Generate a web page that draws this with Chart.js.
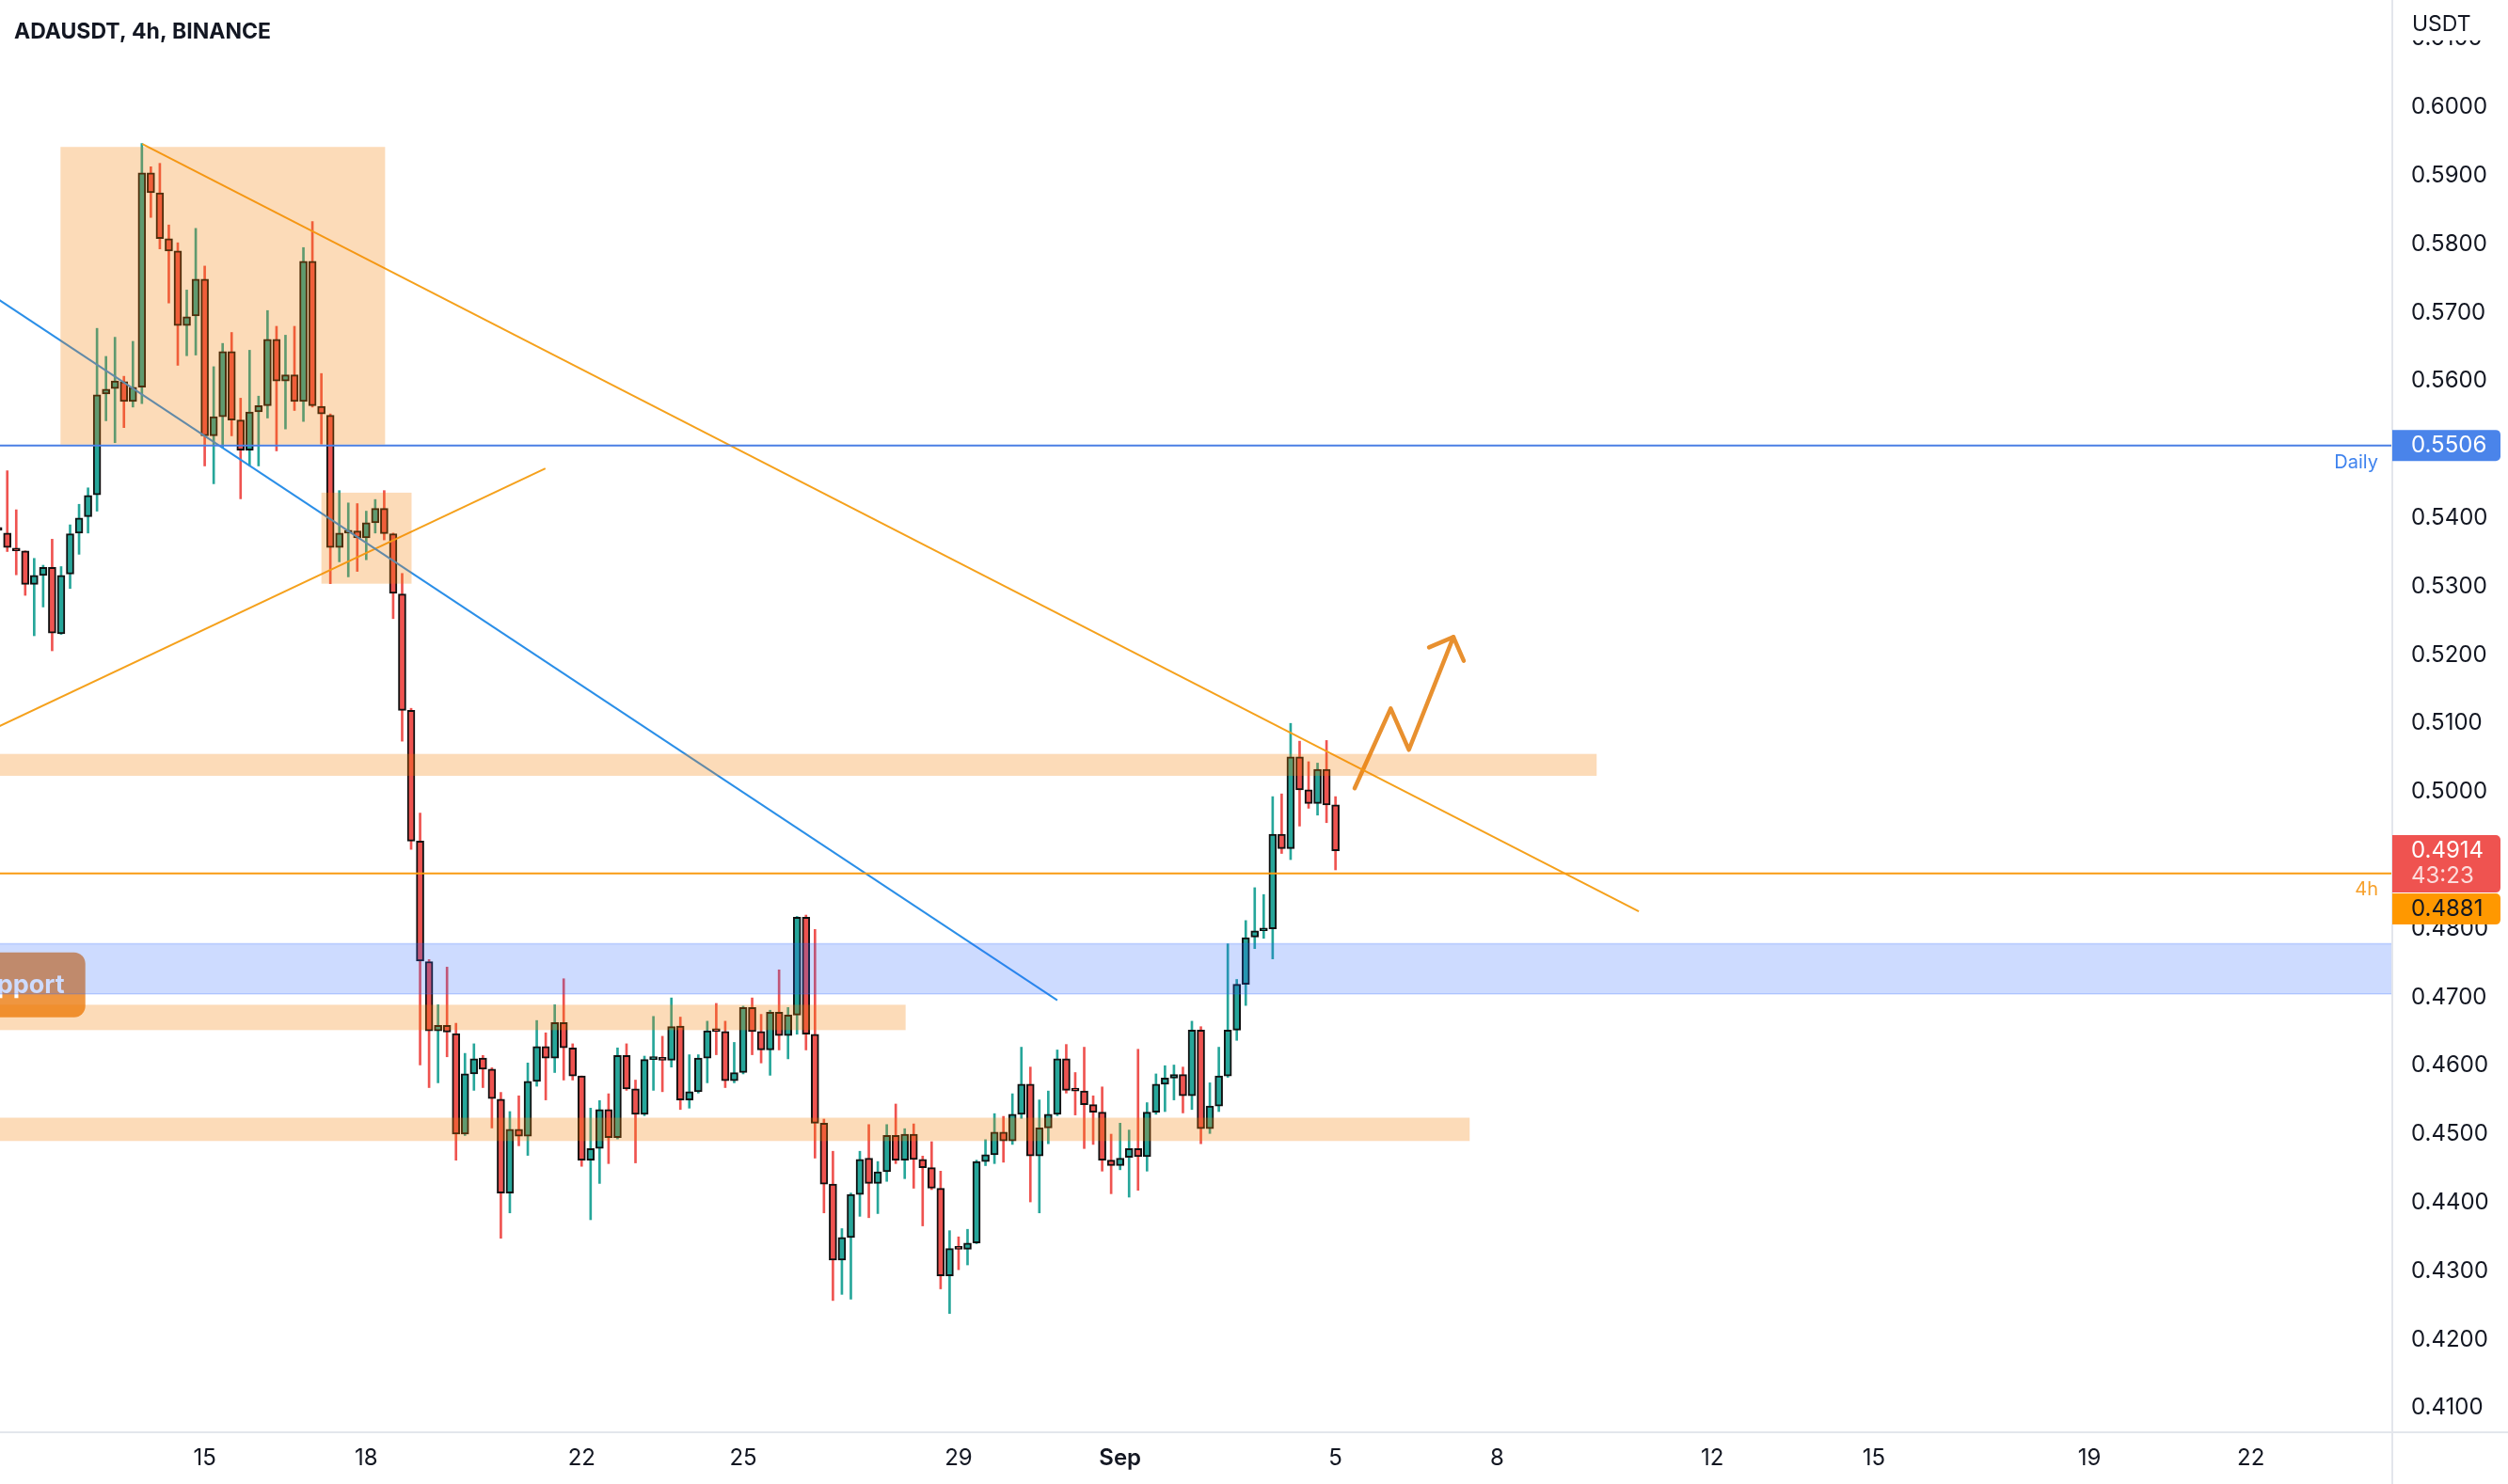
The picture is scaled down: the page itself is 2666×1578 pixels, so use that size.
<!DOCTYPE html>
<html>
<head>
<meta charset="utf-8">
<script src="https://cdn.jsdelivr.net/npm/chart.js@4.4.1/dist/chart.umd.min.js"></script>
<style>
html,body{margin:0;padding:0;background:#fff;overflow:hidden}
canvas{display:block}
</style>
</head>
<body>
<canvas id="c" width="2666" height="1578"></canvas>
<script>
// ADAUSDT 4h candles; bar index counted from Aug 15 00:00 (6 bars per day)
const firstBar = -23;
const openPrices = [
0.5386,0.5378,0.5356,0.5352,0.5303,0.5316,0.5328,0.5231,0.5318,0.5378,
0.5402,0.5434,0.5581,0.5589,0.5599,0.5570,0.5591,0.5904,0.5875,0.5808,
0.5790,0.5681,0.5695,0.5749,0.5520,0.5548,0.5643,0.5543,0.5499,0.5555,
0.5564,0.5661,0.5600,0.5609,0.5570,0.5775,0.5563,0.5550,0.5357,0.5378,
0.5381,0.5371,0.5393,0.5414,0.5377,0.5289,0.5119,0.4928,0.4752,0.4651,
0.4659,0.4647,0.4500,0.4588,0.4611,0.4595,0.4551,0.4414,0.4507,0.4497,
0.4577,0.4628,0.4611,0.4663,0.4626,0.4585,0.4462,0.4479,0.4536,0.4495,
0.4615,0.4566,0.4529,0.4609,0.4610,0.4608,0.4658,0.4550,0.4562,0.4611,
0.4651,0.4650,0.4578,0.4590,0.4685,0.4650,0.4623,0.4678,0.4644,0.4674,
0.4817,0.4646,0.4516,0.4427,0.4316,0.4349,0.4412,0.4465,0.4428,0.4445,
0.4498,0.4462,0.4500,0.4463,0.4451,0.4421,0.4293,0.4333,0.4332,0.4341,
0.4460,0.4470,0.4503,0.4490,0.4529,0.4573,0.4468,0.4509,0.4529,0.4610,
0.4564,0.4563,0.4543,0.4532,0.4462,0.4454,0.4466,0.4479,0.4467,0.4532,
0.4573,0.4582,0.4587,0.4556,0.4652,0.4508,0.4541,0.4585,0.4652,0.4719,
0.4788,0.4797,0.4800,0.4938,0.4917,0.5051,0.5003,0.4983,0.5033,0.4981];
const highPrices = [
0.5395,0.5469,0.5412,0.5352,0.5341,0.5331,0.5369,0.5329,0.5390,0.5420,
0.5444,0.5677,0.5636,0.5664,0.5607,0.5658,0.5947,0.5913,0.5918,0.5828,
0.5802,0.5733,0.5823,0.5768,0.5621,0.5655,0.5671,0.5575,0.5645,0.5578,
0.5703,0.5680,0.5667,0.5680,0.5795,0.5833,0.5611,0.5552,0.5440,0.5422,
0.5421,0.5410,0.5427,0.5440,0.5378,0.5319,0.5122,0.4969,0.4755,0.4689,
0.4744,0.4662,0.4618,0.4632,0.4615,0.4597,0.4561,0.4533,0.4556,0.4604,
0.4666,0.4648,0.4689,0.4727,0.4632,0.4585,0.4538,0.4549,0.4559,0.4626,
0.4632,0.4579,0.4614,0.4672,0.4643,0.4699,0.4671,0.4616,0.4616,0.4665,
0.4691,0.4665,0.4634,0.4687,0.4699,0.4675,0.4681,0.4740,0.4685,0.4818,
0.4820,0.4799,0.4522,0.4475,0.4362,0.4414,0.4475,0.4514,0.4460,0.4514,
0.4544,0.4508,0.4515,0.4468,0.4489,0.4446,0.4359,0.4350,0.4361,0.4462,
0.4492,0.4530,0.4526,0.4559,0.4627,0.4598,0.4550,0.4563,0.4623,0.4631,
0.4590,0.4627,0.4556,0.4569,0.4500,0.4516,0.4506,0.4624,0.4546,0.4588,
0.4600,0.4601,0.4598,0.4665,0.4657,0.4575,0.4627,0.4778,0.4726,0.4812,
0.4860,0.4850,0.4993,0.4997,0.5100,0.5074,0.5044,0.5042,0.5075,0.4993];
const lowPrices = [
0.5372,0.5351,0.5317,0.5287,0.5228,0.5270,0.5206,0.5230,0.5297,0.5347,
0.5378,0.5410,0.5542,0.5510,0.5532,0.5562,0.5567,0.5839,0.5793,0.5714,
0.5623,0.5637,0.5638,0.5476,0.5450,0.5503,0.5520,0.5428,0.5476,0.5476,
0.5546,0.5498,0.5530,0.5557,0.5541,0.5562,0.5508,0.5304,0.5336,0.5314,
0.5322,0.5339,0.5378,0.5368,0.5253,0.5074,0.4916,0.4601,0.4568,0.4575,
0.4613,0.4462,0.4498,0.4564,0.4568,0.4509,0.4348,0.4385,0.4483,0.4469,
0.4570,0.4550,0.4590,0.4579,0.4579,0.4453,0.4375,0.4428,0.4457,0.4493,
0.4564,0.4458,0.4527,0.4564,0.4562,0.4598,0.4536,0.4538,0.4560,0.4575,
0.4616,0.4568,0.4575,0.4588,0.4616,0.4604,0.4586,0.4623,0.4610,0.4646,
0.4623,0.4465,0.4385,0.4257,0.4266,0.4259,0.4380,0.4378,0.4384,0.4431,
0.4457,0.4435,0.4421,0.4366,0.4419,0.4274,0.4238,0.4302,0.4309,0.4340,
0.4454,0.4457,0.4459,0.4485,0.4523,0.4401,0.4385,0.4486,0.4527,0.4560,
0.4528,0.4479,0.4485,0.4446,0.4413,0.4448,0.4408,0.4418,0.4446,0.4529,
0.4533,0.4550,0.4531,0.4536,0.4486,0.4501,0.4533,0.4583,0.4637,0.4688,
0.4771,0.4786,0.4756,0.4910,0.4901,0.4950,0.4976,0.4966,0.4955,0.4886];
const closePrices = [
0.5382,0.5357,0.5352,0.5303,0.5316,0.5328,0.5232,0.5316,0.5377,0.5400,
0.5433,0.5580,0.5588,0.5600,0.5570,0.5591,0.5904,0.5875,0.5808,0.5790,
0.5681,0.5694,0.5749,0.5520,0.5548,0.5643,0.5543,0.5499,0.5555,0.5564,
0.5661,0.5600,0.5609,0.5570,0.5775,0.5564,0.5552,0.5357,0.5378,0.5381,
0.5371,0.5393,0.5414,0.5377,0.5290,0.5119,0.4928,0.4753,0.4651,0.4659,
0.4649,0.4500,0.4588,0.4610,0.4595,0.4552,0.4414,0.4507,0.4497,0.4577,
0.4628,0.4611,0.4663,0.4626,0.4585,0.4462,0.4479,0.4536,0.4495,0.4615,
0.4566,0.4529,0.4609,0.4610,0.4608,0.4657,0.4550,0.4562,0.4611,0.4651,
0.4650,0.4578,0.4590,0.4685,0.4650,0.4623,0.4678,0.4644,0.4674,0.4817,
0.4646,0.4516,0.4427,0.4316,0.4349,0.4412,0.4463,0.4428,0.4445,0.4498,
0.4462,0.4500,0.4463,0.4451,0.4421,0.4293,0.4333,0.4332,0.4341,0.4460,
0.4470,0.4503,0.4490,0.4529,0.4573,0.4468,0.4509,0.4529,0.4610,0.4564,
0.4563,0.4543,0.4532,0.4462,0.4454,0.4465,0.4479,0.4467,0.4532,0.4573,
0.4582,0.4587,0.4556,0.4652,0.4508,0.4541,0.4585,0.4652,0.4719,0.4787,
0.4797,0.4800,0.4938,0.4917,0.5051,0.5003,0.4983,0.5033,0.4981,0.4914];

// axis ticks
const dateTickBars = [0, 18, 42, 60, 84, 102, 126, 144, 168, 186, 210, 228];
const dateTickLabels = ['15', '18', '22', '25', '29', 'Sep', '5', '8', '12', '15', '19', '22'];
const priceTickValues = [0.41,0.42,0.43,0.44,0.45,0.46,0.47,0.48,0.49,0.50,0.51,0.52,0.53,0.54,0.55,0.56,0.57,0.58,0.59,0.60,0.61];

// drawings (bar index, price)
const fallingTrend = [{x: -6.95, y: 0.59464}, {x: 159.8, y: 0.48255}];
const blueTrend = [{x: -30, y: 0.57800}, {x: 95.0, y: 0.46955}];
const risingTrend = [{x: -30, y: 0.50519}, {x: 37.96, y: 0.54724}];
const dailyLevel = 0.5506;
const fourHourLevel = 0.4881;
const lastPrice = 0.4914;
const countdown = '43:23';
const zigzagPath = [{x: 128.13, y: 0.50051}, {x: 132.15, y: 0.51218}, {x: 134.18, y: 0.50614}, {x: 139.14, y: 0.52262}];
const arrowHead = [{x: 136.42, y: 0.52111}, {x: 139.14, y: 0.52262}, {x: 140.29, y: 0.51914}];
const orangeZones = [
  {k0: -16.07, k1: 20.1, p0: 0.55073, p1: 0.5942},
  {k0: 13.0, k1: 23.05, p0: 0.5304, p1: 0.5437},
  {k0: -30, k1: 155.1, p0: 0.50234, p1: 0.50554},
  {k0: -30, k1: 78.1, p0: 0.4652, p1: 0.4689},
  {k0: -30, k1: 140.95, p0: 0.4490, p1: 0.4524}
];
const blueZone = {k0: -30, k1: 300, p0: 0.4705, p1: 0.4778};
const supportLabel = {text: 'Support', kRight: -13.3, pTop: 0.47655, pBottom: 0.46707};

const UP = '#26a69a', DOWN = '#ef5350';
const FONT = 'Inter, "Noto Sans", sans-serif';
const TEXT = '#131722';

const candleColors = closePrices.map((c, i) => c >= openPrices[i] ? UP : DOWN);
const bodies = openPrices.map((o, i) => ({x: firstBar + i, y: [o, closePrices[i]]}));
const wicks = lowPrices.map((l, i) => ({x: firstBar + i, y: [l, highPrices[i]]}));
const hLine = (v) => [{x: -30, y: v}, {x: 300, y: v}];

function lineSet(data, color, width, extra) {
  return Object.assign({type: 'line', data, borderColor: color, borderWidth: width, pointRadius: 0,
    fill: false, tension: 0, order: 0, clip: 0, borderCapStyle: 'butt'}, extra || {});
}

const overlay = {
  id: 'overlay',
  afterDatasetsDraw(chart) {
    const {ctx, chartArea: a, scales: {x, y}} = chart;
    ctx.save();
    ctx.beginPath();
    ctx.rect(a.left, a.top, a.right - a.left, a.bottom - a.top);
    ctx.clip();
    // support label
    const sr = x.getPixelForValue(supportLabel.kRight);
    const st = y.getPixelForValue(supportLabel.pTop);
    const sb = y.getPixelForValue(supportLabel.pBottom);
    ctx.font = '700 27px ' + FONT;
    const tw = ctx.measureText(supportLabel.text).width;
    ctx.fillStyle = '#ef9640';
    ctx.beginPath();
    ctx.roundRect(sr - tw - 44, st, tw + 44, sb - st, 12);
    ctx.fill();
    ctx.fillStyle = '#ffffff';
    ctx.textAlign = 'right';
    ctx.textBaseline = 'middle';
    ctx.fillText(supportLabel.text, sr - 22, (st + sb) / 2 + 1);
    // blue zone
    {
      const l = x.getPixelForValue(blueZone.k0), r = x.getPixelForValue(blueZone.k1);
      const t = y.getPixelForValue(blueZone.p1), b = y.getPixelForValue(blueZone.p0);
      ctx.fillStyle = 'rgba(41,98,255,0.23)';
      ctx.fillRect(l, t, r - l, b - t);
      ctx.strokeStyle = 'rgba(41,98,255,0.25)';
      ctx.lineWidth = 1.5;
      ctx.beginPath();
      ctx.moveTo(l, t); ctx.lineTo(r, t);
      ctx.moveTo(l, b); ctx.lineTo(r, b);
      ctx.stroke();
    }
    // orange zones
    for (const z of orangeZones) {
      const l = x.getPixelForValue(z.k0), r = x.getPixelForValue(z.k1);
      const t = y.getPixelForValue(z.p1), b = y.getPixelForValue(z.p0);
      ctx.fillStyle = 'rgba(245,124,0,0.28)';
      ctx.fillRect(l, t, r - l, b - t);
    }
    ctx.restore();
  },
  afterDraw(chart) {
    const {ctx, chartArea: a, scales: {y}, width: W, height: H} = chart;
    ctx.save();
    // level captions
    ctx.font = '400 20px ' + FONT;
    ctx.textAlign = 'right';
    ctx.textBaseline = 'middle';
    ctx.fillStyle = '#3f83ee';
    ctx.fillText('Daily', a.right - 14, y.getPixelForValue(dailyLevel) + 18);
    ctx.fillStyle = '#f7a02a';
    ctx.fillText('4h', a.right - 14, y.getPixelForValue(fourHourLevel) + 17);
    // separators
    ctx.strokeStyle = '#e3e6ec';
    ctx.lineWidth = 2;
    ctx.beginPath();
    ctx.moveTo(a.right + 1, 0); ctx.lineTo(a.right + 1, H);
    ctx.moveTo(0, a.bottom + 1); ctx.lineTo(W, a.bottom + 1);
    ctx.stroke();
    // cover top of price axis + unit
    ctx.fillStyle = '#ffffff';
    ctx.fillRect(a.right + 2, 0, W - a.right - 2, 43);
    ctx.fillStyle = TEXT;
    ctx.textAlign = 'left';
    ctx.font = '400 23px ' + FONT;
    ctx.fillText('USDT', a.right + 22, 26);
    // price boxes
    const labelFont = '400 24px ' + FONT;
    const bx = a.right + 1, bw = 115;
    const drawBox = (top, h, fill) => {
      ctx.fillStyle = fill;
      ctx.beginPath();
      ctx.roundRect(bx, top, bw, h, [0, 5, 5, 0]);
      ctx.fill();
    };
    ctx.font = labelFont;
    const dTop = y.getPixelForValue(dailyLevel) - 16.5;
    drawBox(dTop, 33, '#4a84ea');
    ctx.fillStyle = '#ffffff';
    ctx.fillText(dailyLevel.toFixed(4), a.right + 21, dTop + 17);
    const rTop = y.getPixelForValue(lastPrice) - 16.5;
    drawBox(rTop, 61, '#ef5350');
    ctx.fillStyle = '#ffffff';
    ctx.fillText(lastPrice.toFixed(4), a.right + 21, rTop + 17);
    ctx.fillStyle = 'rgba(255,255,255,0.8)';
    ctx.fillText(countdown, a.right + 21, rTop + 44);
    const oTop = rTop + 62;
    drawBox(oTop, 33, '#ff9800');
    ctx.fillStyle = TEXT;
    ctx.fillText(fourHourLevel.toFixed(4), a.right + 21, oTop + 17);
    // header
    ctx.font = '700 23px ' + FONT;
    ctx.fillStyle = TEXT;
    ctx.textBaseline = 'alphabetic';
    ctx.fillText('ADAUSDT, 4h, BINANCE', 15, 41);
    ctx.restore();
  }
};

new Chart(document.getElementById('c'), {
  type: 'bar',
  data: {
    datasets: [
      lineSet(hLine(dailyLevel), '#4a7fe4', 2),
      lineSet(hLine(fourHourLevel), '#f99b12', 2),
      lineSet(blueTrend, '#2b8fe8', 2),
      lineSet(fallingTrend, '#f5a11c', 2),
      lineSet(risingTrend, '#f5a11c', 2),
      lineSet(zigzagPath, '#e8902f', 4.5, {borderCapStyle: 'round', borderJoinStyle: 'round'}),
      lineSet(arrowHead, '#e8902f', 4.5, {borderCapStyle: 'round', borderJoinStyle: 'round'}),
      {type: 'bar', data: bodies, backgroundColor: candleColors, borderColor: '#101010', borderWidth: 2,
        borderSkipped: false, barThickness: 8, minBarLength: 3, grouped: false, order: 1},
      {type: 'bar', data: wicks, backgroundColor: candleColors, borderWidth: 0,
        barThickness: 2, grouped: false, order: 2}
    ]
  },
  options: {
    responsive: false,
    animation: false,
    devicePixelRatio: 1,
    layout: {padding: 0},
    plugins: {legend: {display: false}, tooltip: {enabled: false}, title: {display: false}},
    scales: {
      x: {
        type: 'linear', min: -22.81, max: 243.65, offset: false,
        grid: {display: false, drawTicks: false}, border: {display: false},
        afterBuildTicks: (s) => { s.ticks = dateTickBars.map(v => ({value: v})); },
        afterFit: (s) => { s.height = 56; s.paddingLeft = 0; s.paddingRight = 0; s.paddingTop = 0; s.paddingBottom = 0; },
        ticks: {
          autoSkip: false, maxRotation: 0, minRotation: 0, padding: 14, color: TEXT,
          font: (c) => ({family: FONT, size: 24, weight: (c.tick && c.tick.value === 102) ? '600' : '400'}),
          callback: (v) => dateTickLabels[dateTickBars.indexOf(v)]
        }
      },
      y: {
        type: 'linear', position: 'right', min: 0.406593, max: 0.615659,
        grid: {display: false, drawTicks: false}, border: {display: false},
        afterBuildTicks: (s) => { s.ticks = priceTickValues.map(v => ({value: v})); },
        afterFit: (s) => { s.width = 124; s.paddingTop = 0; s.paddingBottom = 0; s.paddingLeft = 0; s.paddingRight = 0; },
        ticks: {
          padding: 21, color: TEXT, autoSkip: false,
          font: {family: FONT, size: 24, weight: '400'},
          callback: (v) => Number(v).toFixed(4)
        }
      }
    }
  },
  plugins: [overlay]
});
</script>
</body>
</html>
